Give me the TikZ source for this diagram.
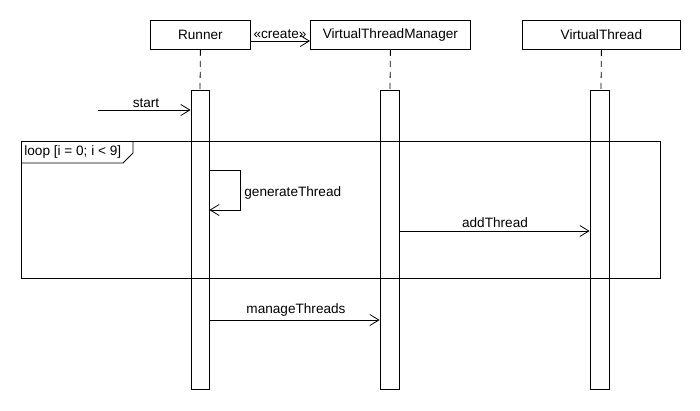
\documentclass[tikz,border=0pt]{standalone}
\usepackage{fontspec}
\setmainfont{Liberation Sans}
\usetikzlibrary{arrows.meta}
\begin{document}
\begin{tikzpicture}[x=1pt,y=-1pt,line width=0.8pt,
  every node/.style={font=\fontsize{13.6}{15}\selectfont},
  obj/.style={draw,fill=white,minimum height=29pt,inner sep=0pt,anchor=north west},
  bar/.style={draw,fill=white},
  life/.style={dashed,dash pattern=on 6pt off 5pt},
  msg/.style={-{Straight Barb[length=9pt,width=11pt,line width=0.8pt]}},
  lbl/.style={inner sep=1pt}]
\useasboundingbox (0,0) rectangle (700,410);
\fill[white] (0,0) rectangle (700,410);
% objects
\node[obj,minimum width=100pt] (runner) at (150,20) {Runner};
\node[obj,minimum width=160pt] (vtm) at (310,20) {VirtualThreadManager};
\node[obj,minimum width=158pt] (vt) at (522,20) {VirtualThread};
% lifelines
\coordinate (rl) at (200,90);
\coordinate (ml) at (390,90);
\coordinate (tl) at (601,90);
\draw[life] (runner.south) -- (rl);
\draw[life] (vtm.south) -- (ml);
\draw[life] (vt.south) -- (tl);
% loop frame
\draw (21,141) rectangle (660,278);
\node[anchor=west,inner sep=0pt] (looplbl) at (24,152) {loop [i = 0; i {\char`<} 9]};
\draw (21,163) -- (123,163) -- (133,153) -- (133,141);
% activation bars
\node[bar,minimum width=18pt,minimum height=299pt,inner sep=0pt,anchor=north] (rb) at (200,90) {};
\node[bar,minimum width=19pt,minimum height=299pt,inner sep=0pt,anchor=north] (mb) at (389.5,90) {};
\node[bar,minimum width=19pt,minimum height=299pt,inner sep=0pt,anchor=north] (tb) at (599.5,90) {};
% loop frame edges crossing the bars
\draw (rb.west |- 0,141) -- (rb.east |- 0,141);
\draw (mb.west |- 0,141) -- (mb.east |- 0,141);
\draw (tb.west |- 0,141) -- (tb.east |- 0,141);
\draw (rb.west |- 0,278) -- (rb.east |- 0,278);
\draw (mb.west |- 0,278) -- (mb.east |- 0,278);
\draw (tb.west |- 0,278) -- (tb.east |- 0,278);
% create
\draw[msg] (runner.east |- 0,41) -- (vtm.west |- 0,41);
\node[lbl,anchor=south] (createlbl) at (280,40) {«create»};
% start
\coordinate (startsrc) at (98,110);
\draw[msg] (startsrc) -- (rb.west |- startsrc);
\node[lbl,anchor=south] (startlbl) at (146,109) {start};
% generateThread
\draw[msg] (rb.east |- 0,170) -- (240,170) -- (240,210) -- (rb.east |- 0,210);
\node[lbl,anchor=west] (genlbl) at (243,193) {generateThread};
% addThread
\draw[msg] (mb.east |- 0,231) -- (tb.west |- 0,231);
\node[lbl,anchor=south] (addlbl) at (495,229) {addThread};
% manageThreads
\draw[msg] (rb.east |- 0,320) -- (mb.west |- 0,320);
\node[lbl,anchor=south] (mnglbl) at (296,318) {manageThreads};
\end{tikzpicture}
\end{document}
